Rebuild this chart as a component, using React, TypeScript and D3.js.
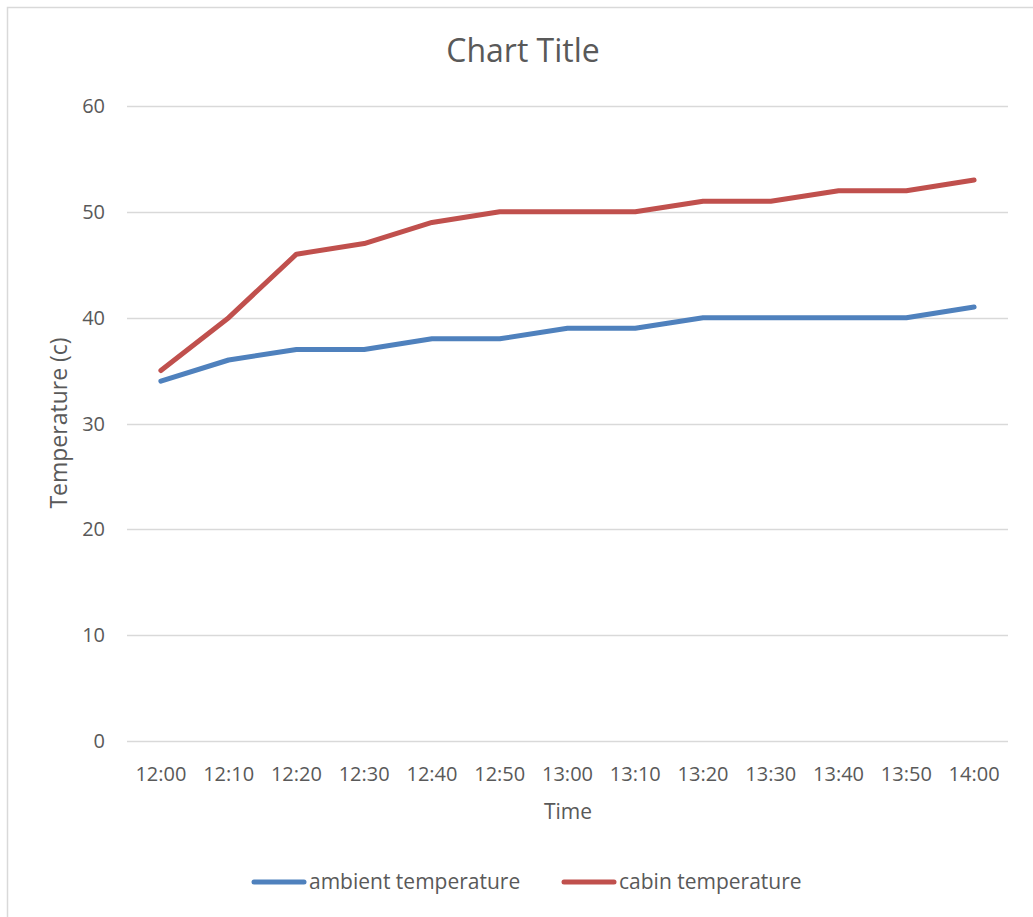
import React, { useEffect, useRef } from 'react';
import * as d3 from 'd3';

const times = ['12:00', '12:10', '12:20', '12:30', '12:40', '12:50', '13:00', '13:10', '13:20', '13:30', '13:40', '13:50', '14:00'];
const ambient = [34, 36, 37, 37, 38, 38, 39, 39, 40, 40, 40, 40, 41];
const cabin = [35, 40, 46, 47, 49, 50, 50, 50, 51, 51, 52, 52, 53];
const yTicks = [0, 10, 20, 30, 40, 50, 60];

const series = [
  { name: 'ambient temperature', values: ambient, color: '#4F81BD' },
  { name: 'cabin temperature', values: cabin, color: '#C0504D' },
];

const W = 1033;
const H = 917;
const FONT = '"Open Sans", sans-serif';
const TEXT = '#595959';

const App: React.FC = () => {
  const svgRef = useRef<SVGSVGElement>(null);

  useEffect(() => {
    if (!svgRef.current) return;
    const svg = d3.select(svgRef.current);
    svg.selectAll('*').remove();

    const left = 127, right = 1008, top = 106, bottom = 741;

    const x = d3.scaleBand().domain(times).range([left, right]);
    const y = d3.scaleLinear().domain([0, 60]).range([bottom, top]);

    // outer chart border
    svg.append('rect')
      .attr('x', 7.5).attr('y', 7.5)
      .attr('width', W + 20).attr('height', H + 20)
      .attr('fill', '#fff').attr('stroke', '#d9d9d9').attr('stroke-width', 1.5);

    svg.append('text')
      .attr('x', 523).attr('y', 62)
      .attr('text-anchor', 'middle')
      .attr('font-family', FONT).attr('font-size', 32).attr('fill', TEXT)
      .text('Chart Title');

    // gridlines + y labels
    const yAxis = svg.append('g');
    yAxis.selectAll('line').data(yTicks).enter().append('line')
      .attr('x1', left).attr('x2', right)
      .attr('y1', d => Math.round(y(d)) + 0.5).attr('y2', d => Math.round(y(d)) + 0.5)
      .attr('stroke', '#d9d9d9').attr('stroke-width', 1.5);
    yAxis.selectAll('text').data(yTicks).enter().append('text')
      .attr('x', 105).attr('y', d => y(d) + 7)
      .attr('text-anchor', 'end')
      .attr('font-family', FONT).attr('font-size', 20).attr('fill', TEXT)
      .text(d => d);

    // x labels
    svg.append('g').selectAll('text').data(times).enter().append('text')
      .attr('x', d => (x(d) || 0) + x.bandwidth() / 2).attr('y', 781)
      .attr('text-anchor', 'middle')
      .attr('font-family', FONT).attr('font-size', 20).attr('fill', TEXT)
      .text(d => d);

    svg.append('text')
      .attr('x', 568).attr('y', 819)
      .attr('text-anchor', 'middle')
      .attr('font-family', FONT).attr('font-size', 21).attr('fill', TEXT)
      .text('Time');

    svg.append('text')
      .attr('transform', 'translate(67,423) rotate(-90)')
      .attr('text-anchor', 'middle')
      .attr('font-family', FONT).attr('font-size', 23).attr('fill', TEXT)
      .text('Temperature (c)');

    const line = d3.line<number>()
      .x((_, i) => (x(times[i]) || 0) + x.bandwidth() / 2)
      .y(d => y(d));

    series.forEach(s => {
      svg.append('path')
        .datum(s.values)
        .attr('d', line)
        .attr('fill', 'none')
        .attr('stroke', s.color)
        .attr('stroke-width', 5)
        .attr('stroke-linecap', 'round')
        .attr('stroke-linejoin', 'round');
    });

    // legend
    const legendX = [254, 564];
    series.forEach((s, i) => {
      const g = svg.append('g').attr('transform', `translate(${legendX[i]},882)`);
      g.append('line')
        .attr('x1', 0).attr('x2', 50).attr('y1', 0).attr('y2', 0)
        .attr('stroke', s.color).attr('stroke-width', 5).attr('stroke-linecap', 'round');
      g.append('text')
        .attr('x', 55).attr('y', 7)
        .attr('font-family', FONT).attr('font-size', 21).attr('fill', TEXT)
        .text(s.name);
    });
  }, []);

  return (
    <svg
      ref={svgRef}
      width={W}
      height={H}
      style={{ position: 'absolute', left: 0, top: 0, background: '#fff' }}
    />
  );
};

export default App;
